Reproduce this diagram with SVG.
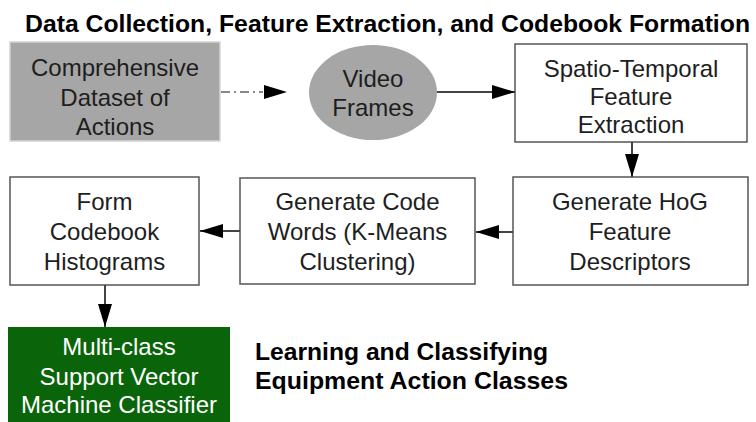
<svg xmlns="http://www.w3.org/2000/svg" width="756" height="422" viewBox="0 0 756 422">
<style>
.t{font-family:"Liberation Sans",Arial,sans-serif;font-size:24px;fill:#1e1e1e;text-anchor:middle}
.w{fill:#ffffff}
.h{font-family:"Liberation Sans",Arial,sans-serif;font-weight:bold;font-size:24px;fill:#000}
.box{fill:#fff;stroke:#555;stroke-width:1.5}
.c{stroke:#444;stroke-width:2;fill:none}
</style>
<defs>
<marker id="ah" markerUnits="userSpaceOnUse" markerWidth="24" markerHeight="16" refX="23" refY="7" orient="auto">
<path d="M0,0 L23,7 L0,14 z" fill="#000"/>
</marker>
</defs>
<rect width="756" height="422" fill="#fff"/>
<text class="h" x="25" y="32" textLength="725" lengthAdjust="spacingAndGlyphs">Data Collection, Feature Extraction, and Codebook Formation</text>
<text class="h" x="255" y="360" textLength="293" lengthAdjust="spacingAndGlyphs">Learning and Classifying</text>
<text class="h" x="255" y="389" textLength="313" lengthAdjust="spacingAndGlyphs">Equipment Action Classes</text>

<g id="dataset">
<rect x="10" y="42" width="210" height="99" fill="#a6a6a6" stroke="#d4d4d4" stroke-width="1.5"/>
<text class="t" x="115" y="76">Comprehensive</text>
<text class="t" x="115" y="106">Dataset of</text>
<text class="t" x="115" y="135">Actions</text>
</g>
<g id="video">
<ellipse cx="373" cy="92.5" rx="64" ry="47.5" fill="#a6a6a6"/>
<text class="t" x="373" y="87">Video</text>
<text class="t" x="373" y="116">Frames</text>
</g>
<g id="spatio">
<rect class="box" x="515" y="44" width="232" height="98"/>
<text class="t" x="631" y="77">Spatio-Temporal</text>
<text class="t" x="631" y="105">Feature</text>
<text class="t" x="631" y="133">Extraction</text>
</g>
<g id="hog">
<rect class="box" x="513" y="177" width="235" height="108"/>
<text class="t" x="630" y="210">Generate HoG</text>
<text class="t" x="630" y="240">Feature</text>
<text class="t" x="630" y="270">Descriptors</text>
</g>
<g id="codewords">
<rect class="box" x="240" y="178" width="235" height="106"/>
<text class="t" x="357.5" y="210">Generate Code</text>
<text class="t" x="357.5" y="240">Words (K-Means</text>
<text class="t" x="357.5" y="270">Clustering)</text>
</g>
<g id="histograms">
<rect class="box" x="10" y="177" width="189" height="108"/>
<text class="t" x="104.5" y="210">Form</text>
<text class="t" x="104.5" y="240">Codebook</text>
<text class="t" x="104.5" y="270">Histograms</text>
</g>
<g id="svm">
<rect x="8" y="327" width="222" height="100" fill="#0a640a"/>
<text class="t w" x="119" y="355">Multi-class</text>
<text class="t w" x="119" y="385">Support Vector</text>
<text class="t w" x="119" y="413">Machine Classifier</text>
</g>
<g id="connectors">
<line x1="221" y1="92" x2="263" y2="92" stroke="#888" stroke-width="2" stroke-dasharray="9,4,2,4"/>
<path d="M263,92 L287,92" stroke="none" fill="none" marker-end="url(#ah)"/>
<line class="c" x1="437" y1="92" x2="515" y2="92" marker-end="url(#ah)"/>
<line class="c" x1="632" y1="142" x2="632" y2="177" marker-end="url(#ah)"/>
<line class="c" x1="513" y1="232" x2="476" y2="232" marker-end="url(#ah)"/>
<line class="c" x1="240" y1="231" x2="200" y2="231" marker-end="url(#ah)"/>
<line class="c" x1="105" y1="285" x2="105" y2="327" marker-end="url(#ah)"/>
</g>
</svg>
